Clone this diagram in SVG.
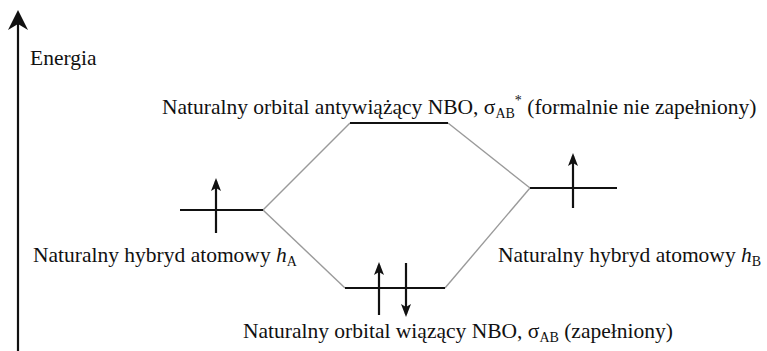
<svg xmlns="http://www.w3.org/2000/svg" width="767" height="351" viewBox="0 0 767 351">
<defs>
<style>
text{font-family:"Liberation Serif","Times New Roman",serif;font-size:21.5px;fill:#111}
.lvl{stroke:#111;stroke-width:2;fill:none}
.e{stroke:#111;stroke-width:2.2;fill:none}
.con{stroke:#9a9a9a;stroke-width:1.4;fill:none}
.sub{font-size:14px}
.it{font-style:italic}
</style>
<marker id="eh" viewBox="0 0 13 10" refX="10" refY="5" markerWidth="13" markerHeight="10" markerUnits="userSpaceOnUse" orient="auto">
<path d="M13,5 L0,0 L3,5 L0,10 Z" fill="#111"/>
</marker>
</defs>
<rect width="767" height="351" fill="#fff"/>
<g id="axis">
<line x1="18" y1="20" x2="18" y2="351" stroke="#111" stroke-width="2.2"/>
<path d="M18,10 L28,30 L18,24 L8,30 Z" fill="#111"/>
<text x="30" y="65">Energia</text>
</g>
<g id="connectors">
<line class="con" x1="263" y1="210" x2="350" y2="123"/>
<line class="con" x1="263" y1="210" x2="345" y2="288"/>
<line class="con" x1="530" y1="188" x2="448" y2="123"/>
<line class="con" x1="530" y1="188" x2="445" y2="288"/>
</g>
<g id="sigma-star">
<line class="lvl" x1="350" y1="123" x2="448" y2="123"/>
<text x="162" y="114">Naturalny orbital antywiążący NBO, σ<tspan class="sub" dy="4">AB</tspan><tspan class="sub" dy="-13">*</tspan><tspan dy="9"> (formalnie nie zapełniony)</tspan></text>
</g>
<g id="hybrid-A">
<line class="lvl" x1="180" y1="210" x2="263" y2="210"/>
<line class="e" x1="216" y1="233" x2="216" y2="181" marker-end="url(#eh)"/>
<text x="33" y="262">Naturalny hybryd atomowy <tspan class="it">h</tspan><tspan class="sub" dy="4">A</tspan></text>
</g>
<g id="hybrid-B">
<line class="lvl" x1="530" y1="188" x2="617" y2="188"/>
<line class="e" x1="573" y1="208" x2="573" y2="156" marker-end="url(#eh)"/>
<text x="498" y="262">Naturalny hybryd atomowy <tspan class="it">h</tspan><tspan class="sub" dy="4">B</tspan></text>
</g>
<g id="sigma">
<line class="lvl" x1="345" y1="288" x2="445" y2="288"/>
<line class="e" x1="379" y1="315" x2="379" y2="265" marker-end="url(#eh)"/>
<line class="e" x1="406" y1="263" x2="406" y2="314" marker-end="url(#eh)"/>
<text x="243" y="338">Naturalny orbital wiązący NBO, σ<tspan class="sub" dy="4">AB</tspan><tspan dy="-4"> (zapełniony)</tspan></text>
</g>
</svg>
